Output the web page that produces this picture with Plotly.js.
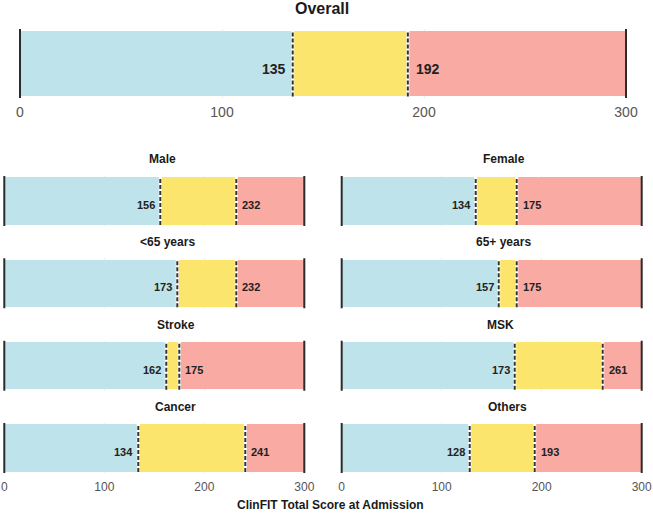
<!DOCTYPE html>
<html>
<head>
<meta charset="utf-8">
<script src="https://cdn.plot.ly/plotly-3.0.1.min.js"></script>
<style>
  html, body { margin: 0; padding: 0; background: #fff; }
  #chart { width: 653px; height: 513px; }
</style>
</head>
<body>
<div id="chart"></div>
<script>
// ClinFIT total score at admission: cut-off values per patient group
const groups   = ["Overall", "Male", "Female", "<65 years", "65+ years", "Stroke", "MSK", "Cancer", "Others"];
const lowCut   = [135, 156, 134, 173, 157, 162, 173, 134, 128];
const highCut  = [192, 232, 175, 232, 175, 175, 261, 241, 193];
const scoreMin = 0;
const scoreMax = 300;
const tickVals = [0, 100, 200, 300];
const axisTitle = "ClinFIT Total Score at Admission";

const W = 653, H = 513;
const px = v => v / W;
const py = v => 1 - v / H;

const colLow = "#bfe3ea", colMid = "#fbe56d", colHigh = "#f8aaa3";
const textCol = "#222222";
const font = "Liberation Sans, Arial, Helvetica, sans-serif";

// panel geometry (pixels): x of score 0, px per unit, top, height, title position
const panels = [
  { x0: 20,    k: 2.02, top: 29,    h: 69, tx: 322, ty: 8,   big: true,  ticks: true },
  { x0: 4.3,   k: 1,    top: 176,   h: 50, tx: 162, ty: 159, ticks: false },
  { x0: 341.7, k: 1,    top: 176,   h: 50, tx: 504, ty: 159, ticks: false },
  { x0: 4.3,   k: 1,    top: 258.3, h: 50, tx: 167, ty: 242, ticks: false },
  { x0: 341.7, k: 1,    top: 258.3, h: 50, tx: 503, ty: 242, ticks: false },
  { x0: 4.3,   k: 1,    top: 340.7, h: 50, tx: 176, ty: 325, ticks: false },
  { x0: 341.7, k: 1,    top: 340.7, h: 50, tx: 500, ty: 325, ticks: false },
  { x0: 4.3,   k: 1,    top: 423,   h: 50, tx: 175, ty: 407, ticks: true },
  { x0: 341.7, k: 1,    top: 423,   h: 50, tx: 507, ty: 407, ticks: true }
];

const pad = 3;
const traces = [];
const shapes = [];
const annotations = [];
const layout = {
  width: W, height: H,
  margin: { l: 0, r: 0, t: 0, b: 0 },
  paper_bgcolor: "#fff", plot_bgcolor: "rgba(0,0,0,0)",
  barmode: "stack",
  showlegend: false,
  font: { family: font, color: textCol }
};

groups.forEach((g, i) => {
  const p = panels[i];
  const sfx = i === 0 ? "" : String(i + 1);
  const xa = "x" + sfx, ya = "y" + sfx;
  const segs = [
    { v: lowCut[i] - scoreMin, c: colLow },
    { v: highCut[i] - lowCut[i], c: colMid },
    { v: scoreMax - highCut[i], c: colHigh }
  ];
  segs.forEach(s => traces.push({
    type: "bar", orientation: "h",
    x: [s.v], y: [g],
    xaxis: xa, yaxis: ya, width: 1,
    marker: { color: s.c, line: { width: 0 } },
    hoverinfo: "skip"
  }));

  const pr = p.big ? 2 : pad;
  const left = p.x0 - pr * p.k, right = p.x0 + (scoreMax + pr) * p.k;
  layout["xaxis" + sfx] = {
    domain: [px(left), px(right)],
    range: [scoreMin - pr, scoreMax + pr],
    anchor: ya, fixedrange: true,
    tickvals: tickVals, showticklabels: p.ticks,
    ticks: "", showline: false, zeroline: false,
    ticklabelstandoff: p.big ? 4 : 5,
    showgrid: true, gridcolor: "rgba(0,0,0,0.07)", gridwidth: 1,
    layer: "above traces",
    tickfont: { size: p.big ? 14 : 12, color: "#555555", family: font }
  };
  layout["yaxis" + sfx] = {
    domain: [py(p.top + p.h), py(p.top)],
    range: [-0.53, 0.53], anchor: xa, fixedrange: true,
    showticklabels: false, showgrid: false, zeroline: false, showline: false,
    ticks: "", type: "category"
  };

  // solid end lines at the score limits
  [scoreMin, scoreMax].forEach(v => shapes.push({
    type: "line", xref: xa, yref: ya + " domain",
    x0: v, x1: v, y0: 0, y1: 1,
    line: { color: "#2b2b2b", width: 2 }
  }));
  // dashed cut-off lines
  [lowCut[i], highCut[i]].forEach(v => {
    shapes.push({
      type: "line", xref: xa, yref: ya + " domain",
      x0: v, x1: v, y0: 0.02, y1: 0.98,
      line: { color: "#ffffff", width: 3 }
    });
    shapes.push({
      type: "line", xref: xa, yref: ya + " domain",
      x0: v, x1: v, y0: 0.02, y1: 0.98,
      line: { color: "#333333", width: 2, dash: "4px,2px" }
    });
  });

  const fs = p.big ? 14 : 11;
  annotations.push({
    xref: xa, yref: ya, x: lowCut[i], y: g, xanchor: "right", yanchor: "middle",
    xshift: p.big ? -5 : -3, yshift: p.big ? -5 : -4,
    text: "<b>" + lowCut[i] + "</b>", showarrow: false,
    font: { size: fs, color: textCol, family: font }
  });
  annotations.push({
    xref: xa, yref: ya, x: highCut[i], y: g, xanchor: "left", yanchor: "middle",
    xshift: p.big ? 6 : 4, yshift: p.big ? -5 : -4,
    text: "<b>" + highCut[i] + "</b>", showarrow: false,
    font: { size: fs, color: textCol, family: font }
  });
  // panel title
  annotations.push({
    xref: "paper", yref: "paper", x: px(p.tx), y: py(p.ty),
    xanchor: "center", yanchor: "middle",
    text: "<b>" + g + "</b>", showarrow: false,
    font: { size: p.big ? 16 : 12, color: "#1a1a1a", family: font }
  });
});

// shared x-axis title
annotations.push({
  xref: "paper", yref: "paper", x: px(330), y: py(505),
  xanchor: "center", yanchor: "middle",
  text: "<b>" + axisTitle + "</b>", showarrow: false,
  font: { size: 12, color: "#1a1a1a", family: font }
});

layout.shapes = shapes;
layout.annotations = annotations;

Plotly.newPlot("chart", traces, layout, { staticPlot: true, displayModeBar: false });
</script>
</body>
</html>
